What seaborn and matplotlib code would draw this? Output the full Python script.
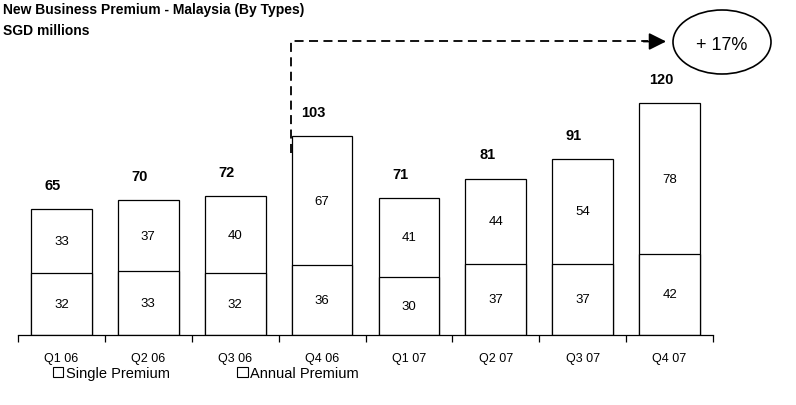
import numpy as np
import pandas as pd
import seaborn as sns
import matplotlib.pyplot as plt
from matplotlib.patches import Patch, Ellipse

quarters = ["Q1 06", "Q2 06", "Q3 06", "Q4 06", "Q1 07", "Q2 07", "Q3 07", "Q4 07"]
single_premium = [32, 33, 32, 36, 30, 37, 37, 42]
annual_premium = [33, 37, 40, 67, 41, 44, 54, 78]
totals = [65, 70, 72, 103, 71, 81, 91, 120]
growth_label = "+ 17%"


def main():
    sns.set_theme(style="white")
    plt.rcParams["font.family"] = ["Liberation Sans", "DejaVu Sans"]
    plt.rcParams["text.color"] = "black"
    plt.rcParams["xtick.color"] = "black"

    df = pd.DataFrame({"quarter": quarters, "single": single_premium,
                       "annual": annual_premium, "total": totals})

    fig = plt.figure(figsize=(7.96, 4.06), dpi=100)
    ax = fig.add_axes([18 / 796, 70 / 406, 695 / 796, 336 / 406])

    bar_kw = dict(color="white", edgecolor="black", linewidth=0.9, width=0.7, ax=ax)
    sns.barplot(data=df, x="quarter", y="total", **bar_kw)
    sns.barplot(data=df, x="quarter", y="single", **bar_kw)

    ax.set_xlim(-0.5, len(quarters) - 0.5)
    ax.set_ylim(0, 174)
    ax.set_xlabel("")
    ax.set_ylabel("")
    ax.set_yticks([])
    for side in ["top", "left", "right"]:
        ax.spines[side].set_visible(False)
    ax.spines["bottom"].set_color("black")
    ax.spines["bottom"].set_linewidth(0.9)

    # tick marks sit between categories, labels stay centred
    ax.set_xticks(np.arange(len(quarters)))
    ax.set_xticklabels(quarters, fontsize=9)
    ax.tick_params(axis="x", length=0, pad=12, labelcolor="black")
    ax.set_xticks(np.arange(-0.5, len(quarters)), minor=True)
    ax.tick_params(axis="x", which="minor", length=5, width=0.9, color="black", bottom=True)

    for i, (s, a, t) in enumerate(zip(single_premium, annual_premium, totals)):
        ax.text(i, s / 2, str(s), ha="center", va="center", fontsize=9.5)
        ax.text(i, s + a / 2, str(a), ha="center", va="center", fontsize=9.5)
        ax.text(i - 0.1, t + 12.5, str(t), ha="center", va="center", fontsize=10.5, fontweight="bold")

    # growth arrow from Q4 06 to Q4 07
    ax.plot([2.64, 2.64, 6.75], [94, 152, 152], ls=(0, (5, 3)), color="black", lw=1.3, clip_on=False)
    ax.annotate("", xy=(6.96, 152), xytext=(6.7, 152),
                arrowprops=dict(arrowstyle="-|>", color="black", lw=1.3,
                                mutation_scale=26, shrinkA=0, shrinkB=0),
                annotation_clip=False)
    ell = Ellipse((722 / 796, (406 - 43) / 406), 98 / 796, 64 / 406, transform=fig.transFigure,
                  facecolor="white", edgecolor="black", lw=1.2)
    fig.patches.append(ell)
    fig.text(722 / 796, (406 - 45) / 406, growth_label, ha="center", va="center", fontsize=13)

    fig.text(3 / 796, 1 - 10 / 406, "New Business Premium - Malaysia (By Types)",
             fontsize=10, fontweight="bold", va="center")
    fig.text(3 / 796, 1 - 31 / 406, "SGD millions", fontsize=10, fontweight="bold", va="center")

    handles = [Patch(facecolor="white", edgecolor="black", lw=0.8),
               Patch(facecolor="white", edgecolor="black", lw=0.8)]
    fig.legend(handles, ["Single Premium", "Annual Premium"], ncol=2, frameon=False,
               loc="center left", bbox_to_anchor=(40 / 796, 1 - 374 / 406),
               handlelength=0.7, handleheight=0.7, handletextpad=0.2, columnspacing=4.6,
               prop={"size": 10.5})

    fig.savefig("out.png", dpi=100)
    plt.close(fig)


if __name__ == "__main__":
    main()
